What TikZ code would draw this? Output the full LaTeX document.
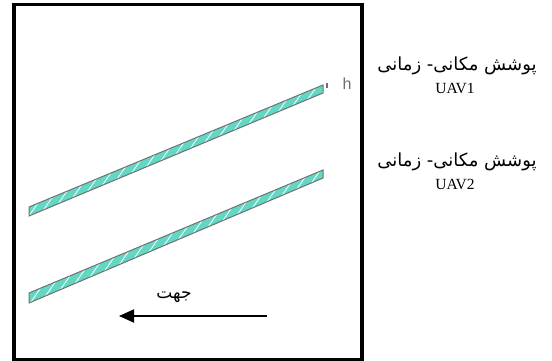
\documentclass[tikz,border=0pt]{standalone}
\usepackage{fontspec}
\setmainfont{Liberation Serif}
\newfontfamily\farsi[Script=Arabic]{DejaVu Sans}
\newfontfamily\sansH{Liberation Sans}
\TeXXeTstate=1
\usepackage{xcolor}
\definecolor{bandTurquoise}{HTML}{62D8C4}
\definecolor{bandBord}{HTML}{707070}
\definecolor{grisH}{HTML}{6E6E6E}
\usetikzlibrary{arrows.meta, patterns.meta}
\tikzset{
  %% ── Frame and bands ──────────────────────────────────────────────────
  cadre/.style      = {draw=black, line width=3.6pt},
  couloir/.style    = {draw=bandBord, line width=1pt,
                       preaction={fill=bandTurquoise},
                       pattern={Lines[angle=55, distance=8.5pt, line width=0.8pt]},
                       pattern color=white},
  %%
  %% ── Arrow ────────────────────────────────────────────────────────────
  flecheDir/.style  = {-{Triangle[length=15pt, width=13pt]}, draw=black,
                       line width=1.8pt},
  %%
  %% ── Text ─────────────────────────────────────────────────────────────
  texteFa/.style    = {font=\farsi\fontsize{18}{20}\selectfont, inner sep=1pt},
  texteDir/.style   = {font=\farsi\fontsize{17}{19}\selectfont, inner sep=1pt},
  texteUav/.style   = {font=\fontsize{15.5}{17}\selectfont, inner sep=1pt},
  texteH/.style     = {font=\sansH\fontsize{16}{18}\selectfont, text=grisH,
                       inner sep=1pt},
}

\begin{document}
\begin{tikzpicture}[x=1pt, y=-1pt]
\useasboundingbox (0,0) rectangle (552,361);

\draw[cadre] (14,4.7) rectangle (362,360);

%% the two coverage bands
\draw[couloir] (29,207) -- (323,85) -- (323,93) -- (29,216) -- cycle;
\draw[couloir] (29,293) -- (323,170) -- (323,178) -- (29,303) -- cycle;

\draw[grisH, line width=1.6pt] (327,83) -- (327,88.5);
\node[texteH] (hLabel) at (347,84) {h};

\node[texteFa] (couvUn) at (457,66) {\beginR پوشش مکانی- زمانی\endR};
\node[texteUav] (uavUn) at (455,89) {UAV1};
\node[texteFa] (couvDeux) at (457,162) {\beginR پوشش مکانی- زمانی\endR};
\node[texteUav] (uavDeux) at (455,184) {UAV2};

\node[texteDir] (dirLabel) at (174,297) {\beginR جهت\endR};
\coordinate (flecheDep) at (267,316);
\coordinate (flecheArr) at (119,316);
\draw[flecheDir] (flecheDep) -- (flecheArr);

\end{tikzpicture}
\end{document}
